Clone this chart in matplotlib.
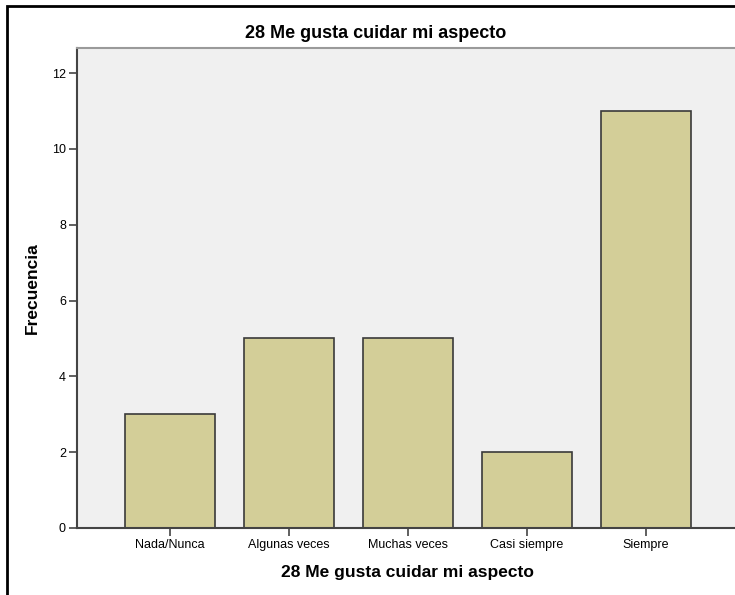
import matplotlib
matplotlib.use("Agg")
import matplotlib.pyplot as plt
from matplotlib.patches import Rectangle

plt.rcParams["font.family"] = ["Liberation Sans", "DejaVu Sans"]

TITLE = "28 Me gusta cuidar mi aspecto"
categories = ["Nada/Nunca", "Algunas veces", "Muchas veces", "Casi siempre", "Siempre"]
counts = [3, 5, 5, 2, 11]
yticks = [0, 2, 4, 6, 8, 10, 12]

BAR_COLOR = "#D3CE98"
BG_COLOR = "#F0F0F0"
W, H = 735, 595

fig = plt.figure(figsize=(W / 100, H / 100), dpi=100)

# outer frame (cut off at right and bottom like the reference)
fig.patches.append(Rectangle((7 / W, -0.2), 1.2, 1.2 - 6 / H + 0.0,
                             transform=fig.transFigure, fill=False,
                             edgecolor="black", linewidth=2))

ax = fig.add_axes([77 / W, 1 - 528 / H, (W - 77) / W, (528 - 48) / H])
ax.set_facecolor(BG_COLOR)

x = range(len(categories))
ax.bar(x, counts, width=0.756, color=BAR_COLOR, edgecolor="#3A3A3A", linewidth=1.2, zorder=2)

ax.set_xlim(-0.78, 4.748)
ax.set_ylim(0, 12.66)
ax.set_xticks(list(x))
ax.set_xticklabels(categories, fontsize=9)
ax.set_yticks(yticks)
ax.set_yticklabels([str(v) for v in yticks], fontsize=9)
ax.tick_params(axis="both", direction="out", length=6, width=1.2, color="#444444", pad=2)

ax.spines["right"].set_visible(False)
ax.spines["top"].set_color("#9A9A9A")
ax.spines["top"].set_linewidth(1.5)
ax.spines[["left", "bottom"]].set_color("#444444")
ax.spines[["left", "bottom"]].set_linewidth(1.5)

fig.text(376 / W, 1 - 33 / H, TITLE, ha="center", va="center", fontsize=13, fontweight="bold")
fig.text(407 / W, 1 - 573 / H, TITLE, ha="center", va="center", fontsize=12.5, fontweight="bold")
fig.text(32 / W, 1 - 288 / H, "Frecuencia", ha="center", va="center", rotation=90,
         fontsize=12.5, fontweight="bold")

fig.savefig("out.png", dpi=100)
